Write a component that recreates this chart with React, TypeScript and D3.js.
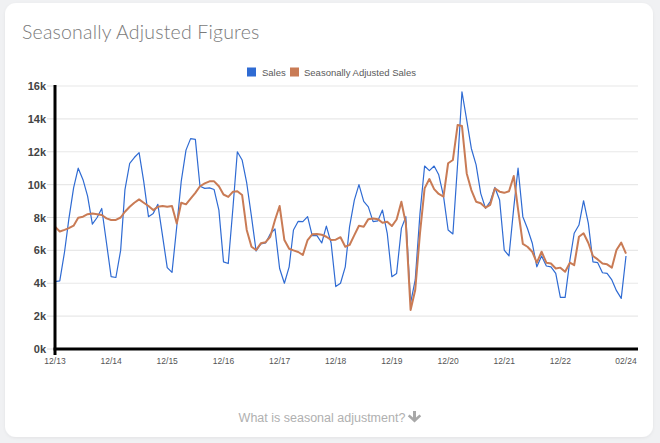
import React from "react";
import * as d3 from "d3";

const START_YEAR = 2013;
const START_MONTH = 11; // December

const sales: number[] = [
  4.1, 4.15, 5.9, 7.9, 9.8, 11.0, 10.3, 9.3, 7.6, 8.0, 8.55, 6.45,
  4.4, 4.35, 6.0, 9.7, 11.3, 11.65, 11.95, 10.2, 8.05, 8.25, 8.8, 6.85,
  4.95, 4.66, 7.45, 10.2, 12.1, 12.8, 12.75, 9.9, 9.77, 9.8, 9.7, 8.45,
  5.3, 5.2, 8.65, 12.0, 11.5, 10.1, 8.05, 5.96, 6.4, 6.45, 7.0, 7.3,
  4.9, 4.0, 5.0, 7.24, 7.77, 7.75, 8.05, 6.9, 6.9, 6.45, 7.48, 6.45,
  3.8, 4.0, 5.0, 7.45, 9.06, 10.0, 8.98, 8.65, 7.75, 7.8, 8.45, 7.04,
  4.4, 4.6, 7.34, 8.05, 2.8, 4.2, 8.25, 11.13, 10.85, 11.13, 10.6, 9.3,
  7.24, 7.0, 11.3, 15.65, 13.93, 12.2, 11.2, 9.47, 8.56, 8.97, 9.83, 9.06,
  6.02, 5.66, 8.6, 11.0, 8.05, 7.33, 6.45, 5.0, 5.66, 5.05, 5.0, 4.6,
  3.14, 3.14, 5.4, 7.04, 7.54, 9.02, 7.64, 5.3, 5.25, 4.64, 4.6, 4.2,
  3.55, 3.08, 5.66,
];

const adjusted: number[] = [
  7.44, 7.15, 7.25, 7.35, 7.5, 7.99, 8.05, 8.2, 8.25, 8.2, 8.15, 7.95,
  7.85, 7.85, 8.0, 8.35, 8.65, 8.9, 9.1, 8.9, 8.7, 8.45, 8.65, 8.7,
  8.65, 8.7, 7.63, 8.9, 8.8, 9.15, 9.5, 9.9, 10.08, 10.2, 10.2, 9.9,
  9.4, 9.25, 9.57, 9.6, 9.37, 7.24, 6.22, 6.02, 6.43, 6.5, 6.83, 7.85,
  8.7, 6.63, 6.1, 6.0, 5.9, 5.72, 6.63, 6.98, 7.0, 6.95, 6.83, 6.63,
  6.65, 6.8, 6.22, 6.33, 6.93, 7.5, 7.44, 7.9, 7.94, 7.9, 7.68, 7.74,
  7.48, 7.88, 8.96, 7.64, 2.37, 3.59, 7.04, 9.77, 10.34, 9.73, 9.43, 9.27,
  11.3, 11.5, 13.63, 13.57, 10.68, 9.67, 8.96, 8.87, 8.6, 8.77, 9.77, 9.57,
  9.5, 9.6, 10.52, 8.5, 6.39, 6.22, 5.92, 5.25, 5.92, 5.25, 5.2, 4.9,
  4.95, 4.7, 5.25, 5.1, 6.83, 7.04, 6.45, 5.66, 5.45, 5.2, 5.15, 4.95,
  6.02, 6.47, 5.8,
];

const xTickLabels = ["12/13", "12/14", "12/15", "12/16", "12/17", "12/18", "12/19", "12/20", "12/21", "12/22", "02/24"];
const xTickMonths = [0, 12, 24, 36, 48, 60, 72, 84, 96, 108, 122];
const yTicks = [0, 2, 4, 6, 8, 10, 12, 14, 16];

const seriesNames = ["Sales", "Seasonally Adjusted Sales"];
const BLUE = "#2f6bd3";
const ORANGE = "#c97b55";

const monthDate = (i: number) => new Date(START_YEAR, START_MONTH + i, 1);

export default function App() {
  const W = 660;
  const H = 443;
  const left = 55;
  const dataRight = 626;
  const plotRight = 638;
  const top = 86;
  const bottom = 349;

  const x = d3
    .scaleTime()
    .domain([monthDate(0), monthDate(sales.length - 1)])
    .range([left, dataRight]);
  const y = d3.scaleLinear().domain([0, 16]).range([bottom, top]);

  const line = d3
    .line<number>()
    .x((_, i) => x(monthDate(i)))
    .y((d) => y(d));

  return (
    <div style={{ position: "absolute", left: 0, top: 0, width: W, height: H, background: "#f0f1f3" }}>
      <svg width={W} height={H} style={{ display: "block" }}>
        <defs>
          <filter id="sh" x="-5%" y="-5%" width="110%" height="110%">
            <feDropShadow dx="0" dy="1" stdDeviation="1.5" floodColor="#000" floodOpacity="0.06" />
          </filter>
        </defs>
        <rect x={5} y={3} width={648} height={434} rx={11} ry={11} fill="#ffffff" filter="url(#sh)" />
        <text
          x={22}
          y={39}
          fontFamily="Lato, 'Open Sans', sans-serif"
          fontWeight={300}
          fontSize={19.5}
          fill="#7a7a7a"
          letterSpacing="0.2"
        >
          Seasonally Adjusted Figures
        </text>

        {/* legend */}
        <g fontFamily="Arial, 'Liberation Sans', sans-serif" fontSize={9.5} fill="#5a5a5a">
          <rect x={247} y={67.5} width={9} height={9} fill={BLUE} />
          <text x={262} y={75.5}>{seriesNames[0]}</text>
          <rect x={290} y={67.5} width={9} height={9} fill={ORANGE} />
          <text x={304} y={75.5}>{seriesNames[1]}</text>
        </g>

        {/* gridlines */}
        {yTicks.map((t) => (
          <line key={t} x1={left} x2={plotRight} y1={y(t)} y2={y(t)} stroke="#e8e8e8" strokeWidth={1.2} />
        ))}
        {yTicks.map((t) => (
          <text
            key={"l" + t}
            x={46}
            y={y(t) + 4}
            textAnchor="end"
            fontFamily="Arial, 'Liberation Sans', sans-serif"
            fontWeight="bold"
            fontSize={11}
            fill="#444"
          >
            {t}k
          </text>
        ))}
        {yTicks.map((t) => (
          <line key={"m" + t} x1={47} x2={left} y1={y(t)} y2={y(t)} stroke="#dcdcdc" strokeWidth={1} />
        ))}

        {xTickMonths.map((m, i) => (
          <text
            key={"x" + m}
            x={x(monthDate(m))}
            y={364}
            textAnchor="middle"
            fontFamily="Arial, 'Liberation Sans', sans-serif"
            fontSize={8.5}
            fill="#555"
          >
            {xTickLabels[i]}
          </text>
        ))}

        <path d={line(sales) || ""} fill="none" stroke={BLUE} strokeWidth={1.2} strokeLinejoin="round" />
        <path d={line(adjusted) || ""} fill="none" stroke={ORANGE} strokeWidth={2} strokeLinejoin="round" />

        {/* axes */}
        <line x1={left} x2={left} y1={top - 1} y2={bottom + 6} stroke="#000" strokeWidth={3} />
        <line x1={left - 1.5} x2={plotRight} y1={bottom} y2={bottom} stroke="#000" strokeWidth={3} />

        {/* footer */}
        <text
          x={322}
          y={422}
          textAnchor="middle"
          fontFamily="Arial, 'Liberation Sans', sans-serif"
          fontSize={12.5}
          fill="#b0b0b0"
        >
          What is seasonal adjustment?
        </text>
        <path
          d="M413 411 L413 417.5 L409.5 414.5 L407.8 416.2 L414.5 422.5 L421.2 416.2 L419.5 414.5 L416 417.5 L416 411 Z"
          fill="#a8a8a8"
        />
      </svg>
    </div>
  );
}
